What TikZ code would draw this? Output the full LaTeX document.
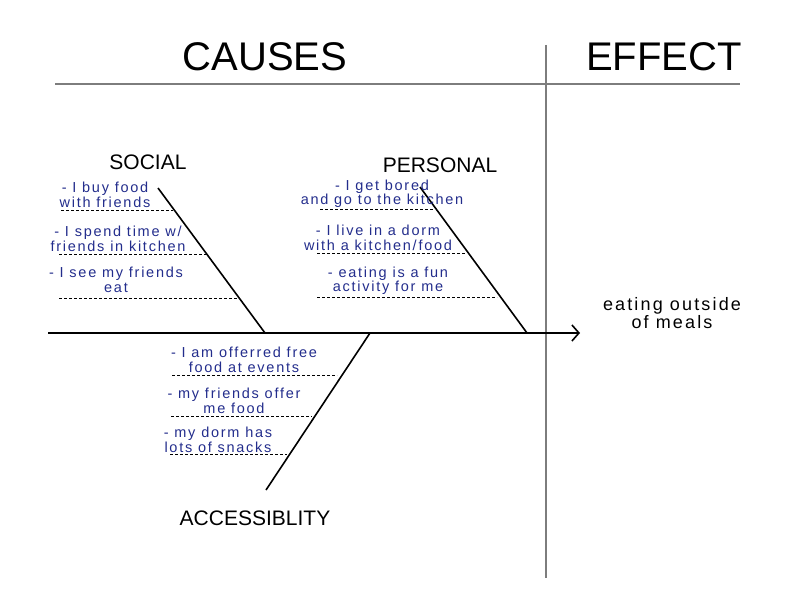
\documentclass[tikz,border=0pt]{standalone}
\usepackage{fontspec}
\setmainfont{Liberation Sans}
\newfontfamily\handfont[LetterSpace=12]{Liberation Sans}
\usetikzlibrary{arrows.meta}
\definecolor{ink}{RGB}{35,45,140}
\definecolor{frame}{RGB}{125,125,125}
\tikzset{
  head/.style={font=\fontsize{40}{40}\selectfont},
  bonelabel/.style={font=\fontsize{21}{21}\selectfont},
  cause/.style={text=ink, font=\handfont\fontsize{14.5}{14.5}\selectfont, align=center, inner sep=0pt},
  effect/.style={font=\handfont\fontsize{18}{18}\selectfont, align=center, inner sep=0pt},
  bone/.style={line width=1.6pt},
  sub/.style={line width=0.9pt, dash pattern=on 3pt off 2pt}
}
\begin{document}
\begin{tikzpicture}[x=1pt,y=-1pt]
  \useasboundingbox (0,0) rectangle (792,612);
  % frame
  \draw
    (55,84) coordinate (tl)
    (740,84) coordinate (tr)
    (546,45) coordinate (vt)
    (546,578) coordinate (vb);
  \begin{scope}[frame, line width=1.3pt]
    \draw (tl) to (tr);
    \draw (vt) to (vb);
  \end{scope}
  \draw
    (265,57) node[head] (causes){CAUSES}
    (664,57) node[head] (eff){EFFECT}
    (148,162) node[bonelabel] (social){SOCIAL}
    (440,165) node[bonelabel] (personal){PERSONAL}
    (255,518) node[bonelabel] (access){ACCESSIBLITY}
    (672,313) node[effect] (result){eating outside\\of meals};
  % spine and bones
  \draw
    (48,333) coordinate (tail)
    (580,333) coordinate (head)
    (158,188) coordinate (s0) (265,333) coordinate (s1)
    (420,187) coordinate (p0) (527,333) coordinate (p1)
    (370,333) coordinate (a0) (266,490) coordinate (a1);
  \begin{scope}[bone]
    \draw[-{Straight Barb[length=7pt,width=16pt]}] (tail) to (head);
    \draw (s0) to (s1);
    \draw (p0) to (p1);
    \draw (a0) to (a1);
  \end{scope}
  % causes
  \draw
    (105,195) node[cause] (s1t){- I buy food\\with friends}
    (118,239) node[cause] (s2t){- I spend time w/\\friends in kitchen}
    (116,280) node[cause] (s3t){- I see my friends\\eat}
    (382,194) node[cause] (p1t){- I get bored\\and go to the kitchen}
    (378,238) node[cause] (p2t){- I live in a dorm\\with a kitchen/food}
    (388,281) node[cause] (p3t){- eating is a fun\\activity for me}
    (244,360) node[cause] (a1t){- I am offerred free\\food at events}
    (234,401) node[cause] (a2t){- my friends offer\\me food}
    (218,440) node[cause] (a3t){- my dorm has\\lots of snacks};
  \draw
    (61,210) coordinate (sa0) (173,210) coordinate (sa1)
    (59,254) coordinate (sb0) (207,254) coordinate (sb1)
    (59,298) coordinate (sc0) (240,298) coordinate (sc1)
    (320,209) coordinate (pa0) (433,209) coordinate (pa1)
    (317,253) coordinate (pb0) (465,253) coordinate (pb1)
    (317,297) coordinate (pc0) (497,297) coordinate (pc1)
    (172,375) coordinate (aa0) (337,375) coordinate (aa1)
    (171,416) coordinate (ab0) (312,416) coordinate (ab1)
    (170,454) coordinate (ac0) (287,454) coordinate (ac1);
  \begin{scope}[sub]
    \draw (sa0) to (sa1);
    \draw (sb0) to (sb1);
    \draw (sc0) to (sc1);
    \draw (pa0) to (pa1);
    \draw (pb0) to (pb1);
    \draw (pc0) to (pc1);
    \draw (aa0) to (aa1);
    \draw (ab0) to (ab1);
    \draw (ac0) to (ac1);
  \end{scope}
\end{tikzpicture}
\end{document}
